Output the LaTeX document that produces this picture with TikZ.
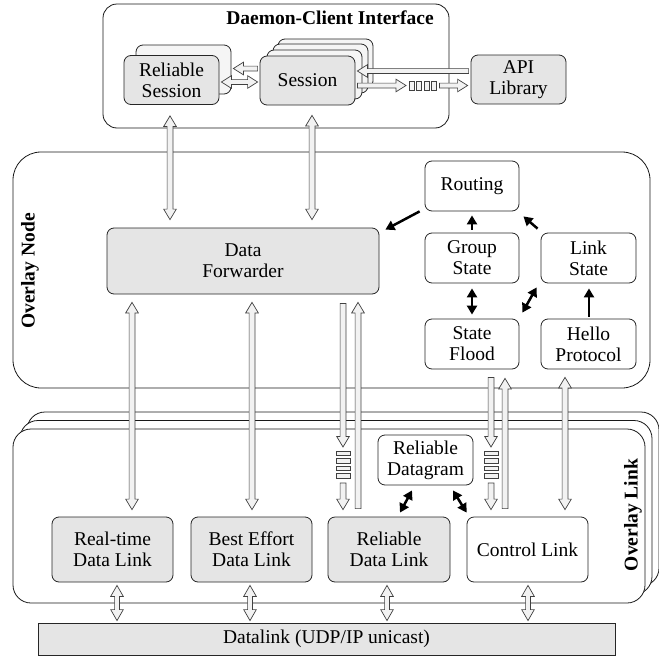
\documentclass[tikz,border=0pt]{standalone}
\usepackage{fontspec}
\setmainfont{Liberation Serif}
\usetikzlibrary{calc,arrows.meta}

% dimensions of the hollow block arrows: shaft half-width, head half-width, head length
\newcommand\fasw{2.8pt}
\newcommand\fahw{6.3pt}
\newcommand\fahl{10.5pt}
% \fatarrow{kind}{from}{to}: kind 0 = plain bar, 1 = head at "to", 2 = heads at both ends
\newcommand\fatarrow[3]{%
  \coordinate (fa-a) at #2;
  \coordinate (fa-b) at #3;
  \coordinate (fa-c) at ($(fa-b)!\fahl!(fa-a)$);
  \coordinate (fa-d) at ($(fa-a)!\fahl!(fa-b)$);
  \ifcase#1\relax
    \filldraw[fat] ($(fa-a)!\fasw!90:(fa-b)$) -- ($(fa-b)!\fasw!-90:(fa-a)$)
      -- ($(fa-b)!\fasw!90:(fa-a)$) -- ($(fa-a)!\fasw!-90:(fa-b)$) -- cycle;
  \or
    \filldraw[fat] ($(fa-a)!\fasw!90:(fa-b)$) -- ($(fa-c)!\fasw!90:(fa-b)$)
      -- ($(fa-c)!\fahw!90:(fa-b)$) -- (fa-b) -- ($(fa-c)!\fahw!-90:(fa-b)$)
      -- ($(fa-c)!\fasw!-90:(fa-b)$) -- ($(fa-a)!\fasw!-90:(fa-b)$) -- cycle;
  \or
    \filldraw[fat] (fa-a) -- ($(fa-d)!\fahw!90:(fa-b)$) -- ($(fa-d)!\fasw!90:(fa-b)$)
      -- ($(fa-c)!\fasw!90:(fa-b)$) -- ($(fa-c)!\fahw!90:(fa-b)$) -- (fa-b)
      -- ($(fa-c)!\fahw!-90:(fa-b)$) -- ($(fa-c)!\fasw!-90:(fa-b)$)
      -- ($(fa-d)!\fasw!-90:(fa-b)$) -- ($(fa-d)!\fahw!-90:(fa-b)$) -- cycle;
  \fi}

\begin{document}
\begin{tikzpicture}[x=1pt,y=-1pt,
  txt/.style={font=\fontsize{19.5}{21}\selectfont},
  box/.style={txt, draw=black!85, line width=0.8pt, rounded corners=7pt,
    align=center, inner sep=0pt},
  gbox/.style={box, fill=gray!20},
  bbox/.style={box, fill=gray!8},
  wbox/.style={box, fill=white},
  frame/.style={draw=black!90, line width=0.8pt, fill=white, inner sep=0pt},
  lbl/.style={font=\fontsize{19.5}{21}\selectfont\bfseries, inner sep=0pt},
  fat/.style={draw=black!75, line width=0.7pt, fill=gray!10, line join=miter},
  blk/.style={line width=2.5pt, black, -{Triangle[length=9pt,width=10pt]}},
  blkb/.style={line width=2.5pt, black,
    {Triangle[length=9pt,width=10pt]}-{Triangle[length=9pt,width=10pt]}},
  qbox/.style={draw=black!75, line width=0.6pt, fill=gray!10},
  vq/.pic={
    \foreach \i in {0,...,3}
      \draw[qbox] (-7,-13.5+7.5*\i) rectangle ++(14,4.5);
    \coordinate (-n) at (0,-13.5);
    \coordinate (-s) at (0,13.5);},
  hq/.pic={
    \foreach \i in {0,...,3}
      \draw[qbox] (-14+7.5*\i,-4.3) rectangle ++(5,8.6);
    \coordinate (-w) at (-14,0);
    \coordinate (-e) at (13.5,0);}
]
\useasboundingbox (0,0) rectangle (659,656);

% ---------- containers ----------
\node[frame, rounded corners=18pt, minimum width=632pt, minimum height=174pt] (ol3) at (343,499) {};
\node[frame, rounded corners=18pt, minimum width=632pt, minimum height=174pt] (ol2) at (336,507.5) {};
\node[frame, rounded corners=18pt, minimum width=632pt, minimum height=174pt] (ol1) at (329,516) {};
\node[frame, rounded corners=28pt, minimum width=637pt, minimum height=236pt] (on) at (331.5,270) {};
\node[frame, rounded corners=14pt, minimum width=346pt, minimum height=124pt] (dci) at (276,66) {};

\node[lbl] (dcititle) at (330,18) {Daemon-Client Interface};
\node[lbl, rotate=90] (onlabel) at (30,271) {Overlay Node};
\node[lbl, rotate=90] (ollabel) at (633,515) {Overlay Link};

% ---------- daemon-client interface ----------
\node[bbox, minimum width=95pt, minimum height=49pt] (rsb) at (183.5,69.5) {};
\node[gbox, minimum width=95pt, minimum height=49pt] (rs) at (171.5,80) {Reliable\\Session};
\node[bbox, minimum width=95pt, minimum height=49pt] (ses3) at (325.5,63.5) {};
\node[bbox, minimum width=95pt, minimum height=49pt] (ses2) at (320.5,68.5) {};
\node[bbox, minimum width=95pt, minimum height=49pt] (ses1) at (314.5,74.5) {};
\node[gbox, minimum width=95pt, minimum height=49pt] (ses) at (307.5,80.5) {Session};
\node[gbox, minimum width=95pt, minimum height=49pt] (api) at (518.5,79.5) {API\\Library};
\pic (qh) at (423,85.5) {hq};

% ---------- overlay node ----------
\node[gbox, minimum width=272pt, minimum height=66pt] (fw) at (243,261) {Data\\Forwarder};
\node[wbox, minimum width=94pt, minimum height=50pt] (rt) at (472,186) {Routing};
\node[wbox, minimum width=94pt, minimum height=50pt] (gs) at (472,258) {Group\\State};
\node[wbox, minimum width=95pt, minimum height=50pt] (ls) at (588.5,258) {Link\\State};
\node[wbox, minimum width=94pt, minimum height=50pt] (sf) at (472,344) {State\\Flood};
\node[wbox, minimum width=95pt, minimum height=50pt] (hp) at (588.5,344) {Hello\\Protocol};

% ---------- overlay link ----------
\node[wbox, minimum width=95pt, minimum height=50pt] (rdg) at (425.5,460) {Reliable\\Datagram};
\node[gbox, minimum width=121pt, minimum height=65pt] (rtl) at (112.5,549.5) {Real-time\\Data Link};
\node[gbox, minimum width=121pt, minimum height=65pt] (bel) at (251.5,549.5) {Best Effort\\Data Link};
\node[gbox, minimum width=122pt, minimum height=65pt] (rdl) at (389,549.5) {Reliable\\Data Link};
\node[wbox, minimum width=121pt, minimum height=65pt] (ctl) at (527.5,549.5) {Control Link};
\pic (qa) at (343,464.5) {vq};
\pic (qb) at (491,464.5) {vq};

% ---------- datalink ----------
\node[txt, draw=black!85, line width=0.8pt, fill=gray!20, inner sep=0pt,
  minimum width=577pt, minimum height=32pt] (dl) at (326.5,639) {Datalink (UDP/IP unicast)};

% ---------- hollow arrows inside the interface ----------
\renewcommand\fasw{2.4pt}
\renewcommand\fahw{6.3pt}
\renewcommand\fahl{10pt}
\fatarrow{1}{($(ses.west)+(-2,-12)$)}{($(rsb.east)+(2,-1)$)}
\fatarrow{2}{($(rs.east)+(2,2)$)}{($(ses.west)+(-2,1.5)$)}
\fatarrow{1}{($(api.west)+(-2,-8.5)$)}{($(ses.east)+(2,-9.5)$)}
\fatarrow{1}{($(ses.east)+(2,5)$)}{($(qh-w)+(-3,0)$)}
\fatarrow{1}{($(qh-e)+(3,0)$)}{($(api.west)+(-3,6)$)}

% ---------- hollow arrows between the layers ----------
\renewcommand\fasw{2.9pt}
\renewcommand\fahw{6.3pt}
\renewcommand\fahl{10.5pt}
\fatarrow{2}{($(rs.south)+(-1.5,11)$)}{($(fw.north)+(-73,-8)$)}
\fatarrow{2}{($(ses.south)+(4.5,10)$)}{($(fw.north)+(69,-8)$)}
\fatarrow{2}{($(fw.south)+(-111,8)$)}{($(rtl.north)+(19.5,-7)$)}
\fatarrow{2}{($(fw.south)+(9,8)$)}{($(bel.north)+(0.5,-7)$)}
\fatarrow{1}{($(fw.south -| qa-n)+(0,9)$)}{($(qa-n)+(0,-4)$)}
\fatarrow{1}{($(qa-s)+(0,5)$)}{($(rdl.north -| qa-s)+(0,-7)$)}
\fatarrow{1}{($(rdl.north)+(-31,-8)$)}{($(fw.south)+(115,8)$)}
\fatarrow{1}{($(sf.south -| qb-n)+(0,8)$)}{($(qb-n)+(0,-4)$)}
\fatarrow{1}{($(qb-s)+(0,5)$)}{($(ctl.north -| qb-s)+(0,-7)$)}
\fatarrow{1}{($(ctl.north)+(-22.5,-8)$)}{($(sf.south)+(33,9)$)}
\fatarrow{2}{($(hp.south)+(-23.5,8)$)}{($(ctl.north)+(37.5,-7)$)}

% ---------- hollow arrows to the datalink ----------
\renewcommand\fasw{2.4pt}
\renewcommand\fahw{6.3pt}
\renewcommand\fahl{11pt}
\fatarrow{2}{($(rtl.south)+(4.5,3)$)}{($(rtl.south |- dl.north)+(4.5,-2)$)}
\fatarrow{2}{($(bel.south)+(-1.5,3)$)}{($(bel.south |- dl.north)+(-1.5,-2)$)}
\fatarrow{2}{($(rdl.south)+(-2,3)$)}{($(rdl.south |- dl.north)+(-2,-2)$)}
\fatarrow{2}{($(ctl.south)+(0.5,3)$)}{($(ctl.south |- dl.north)+(0.5,-2)$)}

% ---------- solid arrows ----------
\draw[blk] ($(rt.south west)+(-5,0)$) -- ($(fw.north east)+(6,2)$);
\draw[blk] ($(gs.north)+(0,-3)$) -- ($(rt.south)+(0,4)$);
\draw[blk] ($(ls.north west)+(-3,-4)$) -- ($(rt.south east)+(4,5)$);
\draw[blkb] ($(gs.south)+(0,5)$) -- ($(sf.north)+(0,-4)$);
\draw[blkb] ($(ls.south west)+(-4,4)$) -- ($(sf.north east)+(3,-6)$);
\draw[blk] ($(hp.north)+(0.5,-2)$) -- ($(ls.south)+(0.5,5)$);
\draw[blkb] ($(rdg.south)+(-13.5,5)$) -- ($(rdl.north)+(11,-4)$);
\draw[blkb] ($(rdg.south)+(27.5,5)$) -- ($(ctl.north west)+(0,-4)$);
\end{tikzpicture}
\end{document}
